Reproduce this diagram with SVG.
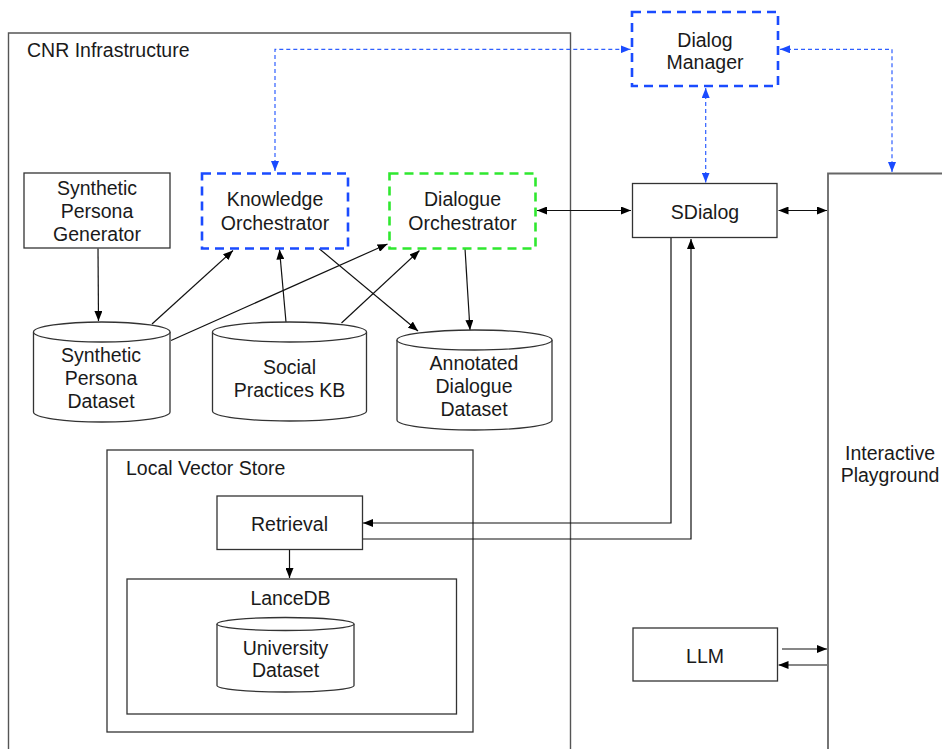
<svg xmlns="http://www.w3.org/2000/svg" width="942" height="749" viewBox="0 0 942 749">
  <defs>
    <style>
      text { font-family: "Liberation Sans", Arial, Helvetica, sans-serif; font-size: 19.5px; fill: #1a1a1a; }
      .mid { text-anchor: middle; }
      .box { fill: #ffffff; stroke: #333333; stroke-width: 1.3; }
      .frame { fill: #ffffff; stroke: #555555; stroke-width: 1.4; }
      .cyl { fill: #ffffff; stroke: #333333; stroke-width: 1.3; }
      .blue-box { fill: #ffffff; stroke: #1a4bff; stroke-width: 2.6; stroke-dasharray: 9 6; }
      .green-box { fill: #ffffff; stroke: #2fe82f; stroke-width: 2.6; stroke-dasharray: 9 6; }
      .link { fill: none; stroke: #111111; stroke-width: 1.2; }
      .blink { fill: none; stroke: #2f5fff; stroke-width: 1.2; stroke-dasharray: 4 3; }
    </style>
    <marker id="arrow" viewBox="0 0 10 8" refX="10" refY="4" markerWidth="10" markerHeight="8" markerUnits="userSpaceOnUse" orient="auto-start-reverse">
      <path d="M0,0 L10,4 L0,8 z" fill="#000000"/>
    </marker>
    <marker id="arrow-blue" viewBox="0 0 10 8" refX="10" refY="4" markerWidth="10" markerHeight="8" markerUnits="userSpaceOnUse" orient="auto-start-reverse">
      <path d="M0,0 L10,4 L0,8 z" fill="#1a4bff"/>
    </marker>
  </defs>

  <rect width="942" height="749" fill="#ffffff"/>

  <!-- outer containers -->
  <g id="cnr-infrastructure">
    <path class="frame" d="M8.5,760 L8.5,33 L570.5,33 L570.5,760"/>
    <text x="27" y="57">CNR Infrastructure</text>
  </g>

  <g id="interactive-playground">
    <path d="M828,760 L828,173.5 L950,173.5" fill="#ffffff" stroke="#666666" stroke-width="1.8"/>
    <text class="mid" x="890" y="460">Interactive</text>
    <text class="mid" x="890" y="482">Playground</text>
  </g>

  <g id="local-vector-store">
    <rect class="box" x="107" y="450" width="366" height="282"/>
    <text x="126" y="475">Local Vector Store</text>
  </g>

  <!-- connectors -->
  <g id="connectors">
    <path class="link" d="M98,248.5 L98.5,321" marker-end="url(#arrow)"/>
    <path class="link" d="M152,324 L233,250.5" marker-end="url(#arrow)"/>
    <path class="link" d="M171,340.5 L387.5,244" marker-end="url(#arrow)"/>
    <path class="link" d="M286,322 L279.5,249.5" marker-end="url(#arrow)"/>
    <path class="link" d="M341.5,323 L419.5,250.5" marker-end="url(#arrow)"/>
    <path class="link" d="M319,248.5 L418,331" marker-end="url(#arrow)"/>
    <path class="link" d="M465,248.5 L470,330" marker-end="url(#arrow)"/>
    <path class="link" d="M537,210.5 L631,210.5" marker-start="url(#arrow)" marker-end="url(#arrow)"/>
    <path class="link" d="M778.5,210.5 L827,210.5" marker-start="url(#arrow)" marker-end="url(#arrow)"/>
    <path class="link" d="M671,238 L671,523 L363,523" marker-end="url(#arrow)"/>
    <path class="link" d="M362.5,539 L691,539 L691,239" marker-end="url(#arrow)"/>
    <path class="link" d="M289.5,549.5 L289.5,578" marker-end="url(#arrow)"/>
    <path class="link" d="M782,649 L827,649" marker-end="url(#arrow)"/>
    <path class="link" d="M827,665 L778.5,665" marker-end="url(#arrow)"/>
    <path class="blink" d="M275,171 L275,49.3 L630.5,49.3" marker-start="url(#arrow-blue)" marker-end="url(#arrow-blue)"/>
    <path class="blink" d="M780,49.3 L892,49.3 L892,172" marker-start="url(#arrow-blue)" marker-end="url(#arrow-blue)"/>
    <path class="blink" d="M705.7,88 L705.7,182.5" marker-start="url(#arrow-blue)" marker-end="url(#arrow-blue)"/>
  </g>

  <!-- nodes -->
  <g id="dialog-manager">
    <rect class="blue-box" x="632" y="12" width="146" height="74"/>
    <text class="mid" x="705" y="47">Dialog</text>
    <text class="mid" x="705" y="69">Manager</text>
  </g>

  <g id="sdialog">
    <rect class="box" x="632.5" y="183.5" width="144.5" height="54"/>
    <text class="mid" x="705" y="219">SDialog</text>
  </g>

  <g id="synthetic-persona-generator">
    <rect class="box" x="24" y="173" width="146" height="75"/>
    <text class="mid" x="97" y="195">Synthetic</text>
    <text class="mid" x="97" y="218">Persona</text>
    <text class="mid" x="97" y="241">Generator</text>
  </g>

  <g id="knowledge-orchestrator">
    <rect class="blue-box" x="202" y="173.5" width="146" height="75"/>
    <text class="mid" x="275" y="206">Knowledge</text>
    <text class="mid" x="275" y="230">Orchestrator</text>
  </g>

  <g id="dialogue-orchestrator">
    <rect class="green-box" x="389.5" y="173.5" width="146" height="75"/>
    <text class="mid" x="462.5" y="206">Dialogue</text>
    <text class="mid" x="462.5" y="230">Orchestrator</text>
  </g>

  <g id="synthetic-persona-dataset">
    <path class="cyl" d="M33.5,332 L33.5,412 A68.25,10 0 0 0 170,412 L170,332 A68.25,10 0 0 0 33.5,332 Z"/>
    <path class="cyl" fill="none" d="M33.5,332 A68.25,10 0 0 0 170,332"/>
    <text class="mid" x="101" y="362">Synthetic</text>
    <text class="mid" x="101" y="384.5">Persona</text>
    <text class="mid" x="101" y="407.5">Dataset</text>
  </g>

  <g id="social-practices-kb">
    <path class="cyl" d="M212.5,332 L212.5,411 A77,10 0 0 0 366.5,411 L366.5,332 A77,10 0 0 0 212.5,332 Z"/>
    <path class="cyl" fill="none" d="M212.5,332 A77,10 0 0 0 366.5,332"/>
    <text class="mid" x="289.5" y="373.5">Social</text>
    <text class="mid" x="289.5" y="397">Practices KB</text>
  </g>

  <g id="annotated-dialogue-dataset">
    <path class="cyl" d="M397,340 L397,420 A77.5,10 0 0 0 552,420 L552,340 A77.5,10 0 0 0 397,340 Z"/>
    <path class="cyl" fill="none" d="M397,340 A77.5,10 0 0 0 552,340"/>
    <text class="mid" x="474" y="369.5">Annotated</text>
    <text class="mid" x="474" y="393">Dialogue</text>
    <text class="mid" x="474" y="415.5">Dataset</text>
  </g>

  <g id="retrieval">
    <rect class="box" x="217" y="496" width="145.5" height="53.5"/>
    <text class="mid" x="289.5" y="531">Retrieval</text>
  </g>

  <g id="lancedb">
    <rect class="box" x="127" y="579" width="329.5" height="135"/>
    <text class="mid" x="290.5" y="604.5">LanceDB</text>
  </g>

  <g id="university-dataset">
    <path class="cyl" d="M217,624 L217,685.5 A68.5,6.5 0 0 0 354,685.5 L354,624 A68.5,6.5 0 0 0 217,624 Z"/>
    <path class="cyl" fill="none" d="M217,624 A68.5,6.5 0 0 0 354,624"/>
    <text class="mid" x="285.5" y="654.5">University</text>
    <text class="mid" x="285.5" y="677">Dataset</text>
  </g>

  <g id="llm">
    <rect class="box" x="633" y="628" width="144.5" height="53"/>
    <text class="mid" x="705" y="662.5">LLM</text>
  </g>
</svg>
